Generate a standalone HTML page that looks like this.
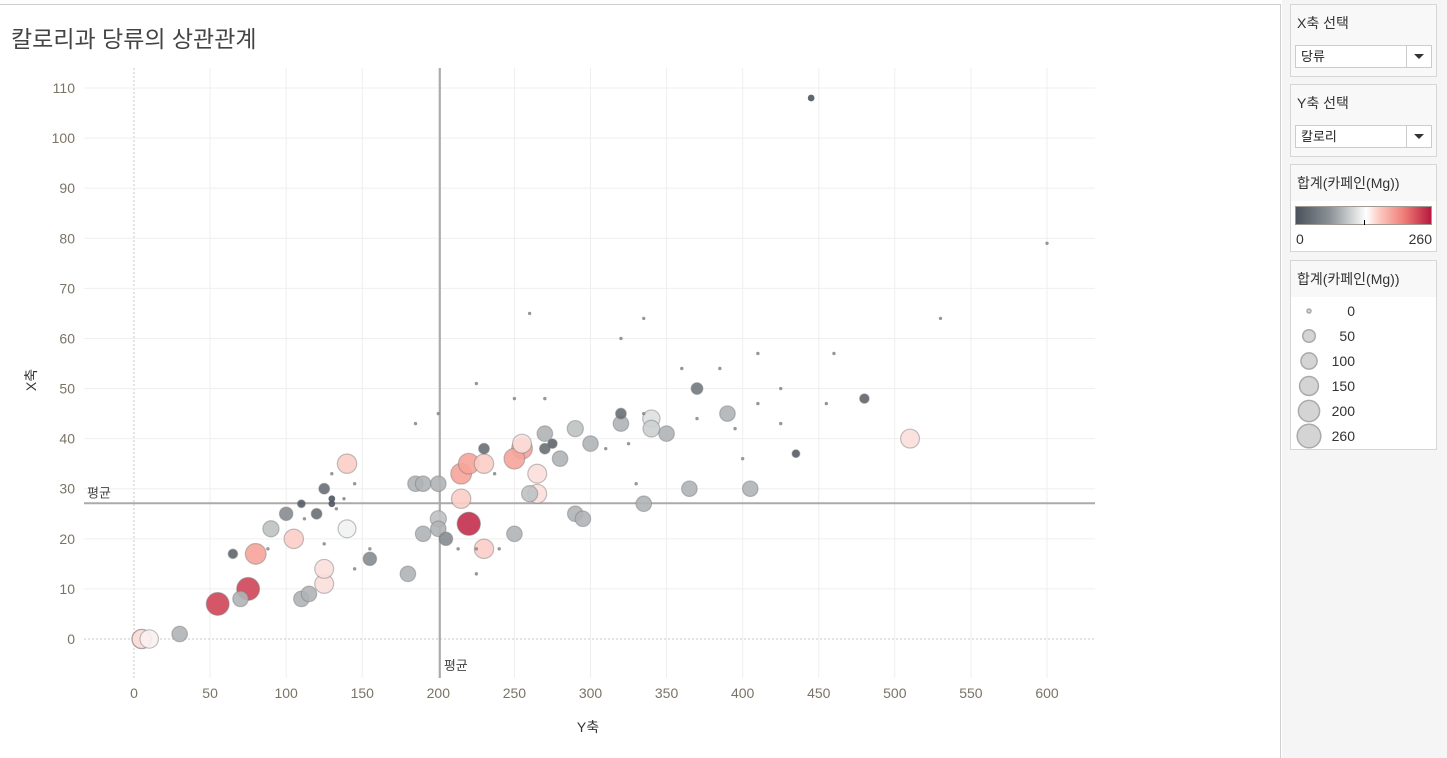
<!DOCTYPE html>
<html><head><meta charset="utf-8">
<style>
body{margin:0;width:1447px;height:758px;overflow:hidden;background:#fff;font-family:"Liberation Sans","Noto Sans CJK KR",sans-serif;position:relative}
#frame{position:absolute;left:0;top:4px;width:1281px;height:754px;border-top:1px solid #cfcfcf;border-right:1px solid #cfcfcf;box-sizing:border-box}
#title{position:absolute;left:11px;top:20px;font-size:23px;color:#444}
#side{position:absolute;left:1282px;top:0;width:165px;height:758px;background:#f5f5f5}
.card{position:absolute;left:8px;width:147px;background:#f8f8f8;border:1px solid #d6d6d6;box-sizing:border-box}
.ct{font-size:14px;color:#333;padding:8px 0 0 6px}
.sel{position:absolute;left:4px;width:137px;height:23px;background:#fff;border:1px solid #ccc;box-sizing:border-box;font-size:13px;line-height:21px;padding-left:5px;color:#222}
.sel .ar{position:absolute;right:0;top:0;width:24px;height:21px;border-left:1px solid #ccc}
.sel .ar:after{content:"";position:absolute;left:7px;top:8px;border:5px solid transparent;border-top:5px solid #333;border-bottom:0}
.lg{position:absolute;font-size:14px;color:#333}
</style></head><body>
<div id="frame"></div>
<div id="title">칼로리과 당류의 상관관계</div>
<svg id="chart" width="1281" height="758" style="position:absolute;left:0;top:0"></svg>
<div id="side">
 <div class="card" style="top:4px;height:73px">
  <div class="ct">X축 선택</div>
  <div class="sel" style="top:40px">당류<div class="ar"></div></div>
 </div>
 <div class="card" style="top:84px;height:73px">
  <div class="ct">Y축 선택</div>
  <div class="sel" style="top:40px">칼로리<div class="ar"></div></div>
 </div>
 <div class="card" style="top:164px;height:88px">
  <div class="ct">합계(카페인(Mg))</div>
  <div style="position:absolute;left:0;top:36px;width:145px;height:50px;background:#fff"></div>
  <div style="position:absolute;left:4px;top:41px;width:137px;height:19px;border:1px solid #a09a90;box-sizing:border-box;background:linear-gradient(90deg,#4b525b,#8b9196 25%,#d4d6d6 42%,#fff 52%,#fcc8c0 62%,#ef7d76 80%,#b8183f)"></div>
  <div style="position:absolute;left:73px;top:55px;width:1px;height:5px;background:#000"></div>
  <div class="lg" style="left:5px;top:66px">0</div>
  <div class="lg" style="right:4px;top:66px">260</div>
 </div>
 <div class="card" style="top:260px;height:190px">
  <div class="ct">합계(카페인(Mg))</div>
  <svg width="145" height="152" style="position:absolute;left:0;top:36px;background:#fff" id="sizeleg"></svg>
 </div>
</div>
<script>
const calories=[5,10,5,30,55,75,70,65,80,90,88,100,105,110,112,120,125,130,130,133,130,140,140,145,138,110,115,125,125,155,155,145,125,180,185,190,190,200,200,200,205,185,200,215,215,220,230,220,230,213,225,240,225,230,237,250,225,250,255,255,250,260,265,265,270,275,270,280,290,290,295,300,260,270,310,320,320,325,320,335,335,340,340,350,335,330,360,365,370,370,385,390,395,400,405,410,410,425,425,435,445,455,460,480,510,530,600];
const sugar=[0,0,0,1,7,10,8,17,17,22,18,25,20,27,24,25,30,28,27,26,33,35,22,31,28,8,9,11,14,16,18,14,19,13,31,31,21,31,24,22,20,43,45,28,33,35,35,23,18,18,18,18,13,38,33,21,51,48,39,38,36,29,29,33,38,39,41,36,42,25,24,39,65,48,38,45,43,39,60,64,45,44,42,41,27,31,54,30,50,44,54,45,42,36,30,57,47,50,43,37,108,47,57,48,40,64,79];
const caffeine=[160,140,150,90,240,240,90,20,190,100,0,60,160,10,0,30,30,5,5,0,0,160,130,0,0,90,90,150,150,60,0,0,0,90,90,90,90,90,100,90,60,0,0,160,190,190,160,250,160,0,0,0,0,30,0,90,0,0,150,190,190,100,150,150,30,20,90,90,100,90,90,90,0,0,0,30,90,0,0,0,0,120,110,90,90,0,0,90,40,0,0,90,0,0,90,0,0,0,0,10,5,0,0,20,150,0,0];
const xTicks=[0,50,100,150,200,250,300,350,400,450,500,550,600];
const yTicks=[0,10,20,30,40,50,60,70,80,90,100,110];
const sizeLegend=[0,50,100,150,200,260];

const NS="http://www.w3.org/2000/svg";
const sx=v=>134+v*(1047-134)/600;
const sy=v=>639-v*(639-88)/110;
const rad=c=>c<=0?1.7:2+9.8*Math.sqrt(c/260);
function col(c){
 if(c<=0) return '#8a8d90';
 const stops=[[0,[75,82,91]],[65,[139,145,150]],[110,[205,208,208]],[135,[250,250,250]],[160,[252,205,198]],[208,[243,140,128]],[260,[184,24,63]]];
 for(let i=1;i<stops.length;i++){if(c<=stops[i][0]){const a=stops[i-1],b=stops[i],t=(c-a[0])/(b[0]-a[0]);return 'rgb('+a[1].map((v,k)=>Math.round(v+(b[1][k]-v)*t)).join(',')+')';}}
 return 'rgb(184,24,63)';
}
function el(p,t,a){const e=document.createElementNS(NS,t);for(const k in a)e.setAttribute(k,a[k]);p.appendChild(e);return e;}
const svg=document.getElementById('chart');
const L=84,R=1095,T=68,B=678;
xTicks.forEach(v=>{
 const g=el(svg,'line',{x1:sx(v),x2:sx(v),y1:T,y2:B,stroke:v===0?'#c8c8c8':'#efefef','stroke-dasharray':v===0?'2,2':'none'});
 
 
 const t=el(svg,'text',{x:sx(v),y:698,'text-anchor':'middle','font-size':14,fill:'#7a7466'});t.textContent=v;
 
 
});
yTicks.forEach(v=>{
 const g=el(svg,'line',{x1:L,x2:R,y1:sy(v),y2:sy(v),stroke:v===0?'#c8c8c8':'#efefef','stroke-dasharray':v===0?'2,2':'none'});
 
 
 const t=el(svg,'text',{x:75,y:sy(v)+5,'text-anchor':'end','font-size':14,fill:'#7a7466'});t.textContent=v;
 
 
});
const avgX=201,avgY=27.1;
let a1=el(svg,'line',{x1:sx(avgX),x2:sx(avgX),y1:T,y2:B,stroke:'#aaa','stroke-width':2});


let a2=el(svg,'line',{x1:L,x2:R,y1:sy(avgY),y2:sy(avgY),stroke:'#aaa','stroke-width':2});


let t1=el(svg,'text',{x:87,y:sy(avgY)-6,'font-size':13,fill:'#444'});t1.textContent='평균';


let t2=el(svg,'text',{x:sx(avgX)+4,y:670,'font-size':13,fill:'#444'});t2.textContent='평균';


const order=calories.map((_,i)=>i).sort((a,b)=>caffeine[b]-caffeine[a]);
order.forEach(i=>{
 const c=el(svg,'circle',{cx:sx(calories[i]),cy:sy(sugar[i]),r:rad(caffeine[i]),fill:col(caffeine[i]),stroke:caffeine[i]>5?'rgba(120,120,120,0.45)':'none','stroke-width':1.2,'fill-opacity':0.9});
 
 
});
let xl=el(svg,'text',{x:588,y:732,'text-anchor':'middle','font-size':14,fill:'#333'});xl.textContent='Y축';


let yl=el(svg,'text',{x:36,y:380,'text-anchor':'middle','font-size':14,fill:'#333',transform:'rotate(-90 36 380)'});yl.textContent='X축';


const sl=document.getElementById('sizeleg');
sizeLegend.forEach((v,k)=>{
 const cy=14+k*25;
 const c=el(sl,'circle',{cx:18,cy:cy,r:v===0?2:rad(v),fill:'#d4d4d4',stroke:'#aaa','stroke-width':1.5});
 
 
 const t=el(sl,'text',{x:64,y:cy+5,'text-anchor':'end','font-size':14,fill:'#333'});t.textContent=v;
 
 
});
</script>
</body></html>
